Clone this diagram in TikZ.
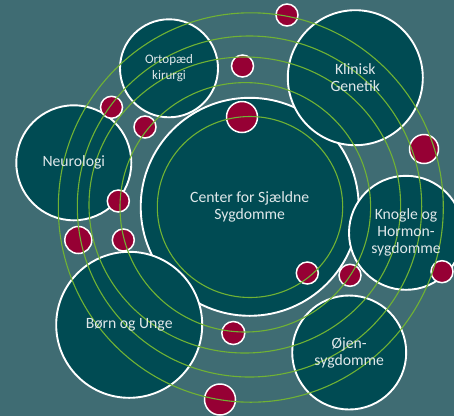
\documentclass[tikz,border=0pt]{standalone}
\usepackage{fontspec}
\setmainfont{Carlito}
\usepackage{xcolor}
\usepackage{tikz}
\definecolor{bgteal}{RGB}{63,108,115}
\definecolor{darkteal}{RGB}{0,75,83}
\definecolor{dotred}{RGB}{150,0,52}
\definecolor{ringgreen}{RGB}{112,178,52}
\definecolor{txtgrey}{RGB}{224,232,234}

\begin{document}
\begin{tikzpicture}[x=1pt,y=-1pt,semithick]
						\tikzstyle{dept}=[draw=white, line width=1.9pt, fill=darkteal, circle, inner sep=0pt]
						\tikzstyle{rdot}=[draw=white, line width=1.5pt, fill=dotred, circle, inner sep=0pt]
						\tikzstyle{ring}=[draw=ringgreen, line width=1.1pt]
						\tikzstyle{lbl}=[text=txtgrey, align=center, inner sep=0pt, font=\fontsize{15.7}{17}\selectfont]
						\useasboundingbox (0,0) rectangle (454,416);
						\fill[bgteal] (0,0) rectangle (454,416);
						% afdelinger
						\node[dept, minimum size=218pt] 	(C) at (249.7,206.8)	{};
						\node[dept, minimum size=98pt] 		(O) at (169,68.3)     	{};
						\node[dept, minimum size=135pt] 	(K) at (355.3,77.7)    	{};
						\node[dept, minimum size=115pt] 	(N) at (73.8,162.8)    	{};
						\node[dept, minimum size=114pt] 	(H) at (406,232.8)    	{};
						\node[dept, minimum size=146pt] 	(B) at (129.2,324.8)  	{};
						\node[dept, minimum size=114pt] 	(E) at (349.2,352.5)  	{};
						% prikker
						\node[rdot, minimum size=22pt] 	(d1) at (287,15)        {};
						\node[rdot, minimum size=22pt] 	(d2) at (242.5,66)      {};
						\node[rdot, minimum size=31pt] 	(d3) at (242,117)       {};
						\node[rdot, minimum size=22pt] 	(d4) at (111.5,107.3)   {};
						\node[rdot, minimum size=22pt] 	(d5) at (145,127)       {};
						\node[rdot, minimum size=29pt] 	(d6) at (424,149)       {};
						\node[rdot, minimum size=22pt] 	(d7) at (118.3,201)     {};
						\node[rdot, minimum size=27pt] 	(d8) at (78.3,240)      {};
						\node[rdot, minimum size=22pt] 	(d9) at (123.3,240)     {};
						\node[rdot, minimum size=22pt] 	(d10) at (307.3,273)    {};
						\node[rdot, minimum size=22pt] 	(d11) at (350,275.3)    {};
						\node[rdot, minimum size=22pt] 	(d12) at (442,271.7)    {};
						\node[rdot, minimum size=23pt] 	(d13) at (233.3,333)    {};
						\node[rdot, minimum size=31pt] 	(d14) at (220,399.5)    {};
						% ringe
						\draw[ring] (250,207) ellipse [x radius=92.7pt, y radius=90.5pt];
						\draw[ring] (245.3,207.3) ellipse [x radius=125.3pt, y radius=124.7pt];
						\draw[ring] (244.8,205) ellipse [x radius=155.8pt, y radius=148pt];
						\draw[ring] (249.5,206.5) ellipse [x radius=172.2pt, y radius=170.5pt];
						\draw[ring] (250.8,207.5) ellipse [x radius=192.5pt, y radius=194.7pt];
						% tekst
						\node[lbl] (Ct) at (C) {Center for Sjældne\\Sygdomme};
						\node[lbl, font=\fontsize{13}{16}\selectfont] (Ot) at (O) {Ortopæd\\kirurgi};
						\node[lbl] (Kt) at (K) {Klinisk\\Genetik};
						\node[lbl] (Nt) at (N) {Neurologi};
						\node[lbl] (Ht) at (H) {Knogle og\\Hormon-\\sygdomme};
						\node[lbl] (Bt) at (B) {Børn og Unge};
						\node[lbl] (Et) at (E) {Øjen-\\sygdomme};
\end{tikzpicture}
\end{document}
